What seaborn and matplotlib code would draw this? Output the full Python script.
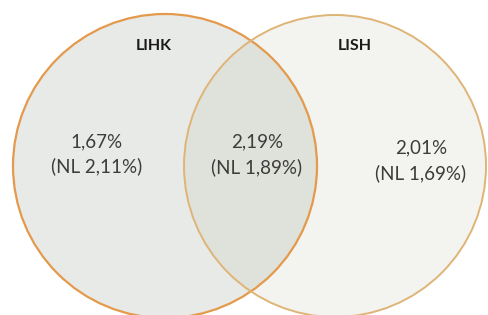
import matplotlib
matplotlib.use("Agg")
import matplotlib.pyplot as plt
from matplotlib.patches import Circle
import seaborn as sns

sns.set_theme(style="white")
plt.rcParams['font.family'] = ['Lato', 'DejaVu Sans']

# data
sets = ['LIHK', 'LISH']
left_only = '1,67%'
left_only_nl = '(NL 2,11%)'
both = '2,19%'
both_nl = '(NL 1,89%)'
right_only = '2,01%'
right_only_nl = '(NL 1,69%)'

fig = plt.figure(figsize=(4.89, 3.15), dpi=100)
ax = fig.add_axes([0, 0, 1, 1])
ax.set_xlim(0, 489)
ax.set_ylim(315, 0)
ax.set_aspect('equal')
ax.axis('off')

# fills (left drawn on top of right, semi-transparent, so overlap darkens)
ax.add_patch(Circle((335, 166), 151, facecolor='#f3f3ef', edgecolor='none', zorder=1))
ax.add_patch(Circle((165, 166), 152, facecolor='#a7afa3', edgecolor='none', alpha=0.25, zorder=2))
ax.add_patch(Circle((165, 166), 152, facecolor='none', edgecolor='#e49a4c', lw=1.6, zorder=3))
ax.add_patch(Circle((335, 166), 151, facecolor='none', edgecolor='#dfb477', lw=1.4, zorder=3))

ax.text(154, 46, sets[0], ha='center', va='center', fontsize=11.5, fontweight='bold', color='#1a1a1a', zorder=4)
ax.text(355, 46, sets[1], ha='center', va='center', fontsize=11.5, fontweight='bold', color='#1a1a1a', zorder=4)

txt = dict(ha='center', va='center', fontsize=13.5, color='#3c3c3c', zorder=4)
ax.text(97, 142, left_only, **txt)
ax.text(97, 166, left_only_nl, **txt)
ax.text(257, 142, both, **txt)
ax.text(257, 167, both_nl, **txt)
ax.text(421, 148, right_only, **txt)
ax.text(421, 173, right_only_nl, **txt)

fig.savefig('out.png', dpi=100, facecolor='white')
